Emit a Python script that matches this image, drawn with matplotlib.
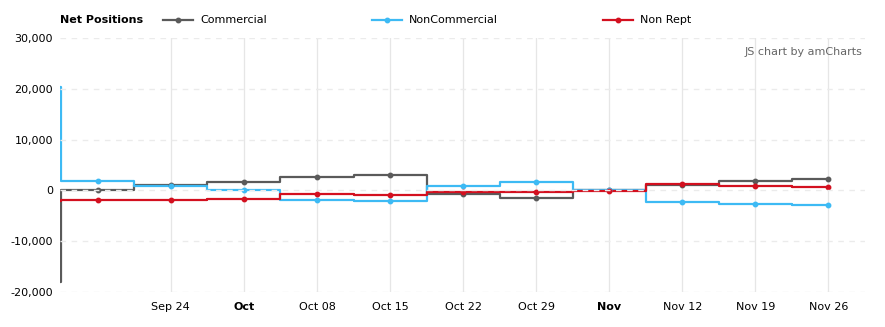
import matplotlib
matplotlib.use("Agg")
import matplotlib.pyplot as plt
import matplotlib.dates as mdates
from matplotlib.lines import Line2D
import pandas as pd

# Weekly net positions (contracts)
dates = ["2018-09-10", "2018-09-17", "2018-09-24", "2018-10-01", "2018-10-08",
         "2018-10-15", "2018-10-22", "2018-10-29", "2018-11-05", "2018-11-12",
         "2018-11-19", "2018-11-26"]
commercial = [-18100, 50, 1000, 1700, 2600, 3100, -700, -1400, 0, 1100, 1850, 2200]
noncommercial = [20300, 1900, 900, 50, -1800, -2100, 850, 1700, 100, -2300, -2700, -2900]
non_rept = [-2000, -1900, -1900, -1700, -700, -1000, -300, -300, -150, 1200, 800, 600]

series_names = ["Commercial", "NonCommercial", "Non Rept"]
series_colors = ["#5a5a5a", "#3dbaf4", "#d3101f"]

tick_dates = ["2018-09-24", "2018-10-01", "2018-10-08", "2018-10-15", "2018-10-22",
              "2018-10-29", "2018-11-05", "2018-11-12", "2018-11-19", "2018-11-26"]
tick_labels = ["Sep 24", "Oct", "Oct 08", "Oct 15", "Oct 22", "Oct 29",
               "Nov", "Nov 12", "Nov 19", "Nov 26"]
month_labels = {"Oct", "Nov"}
y_ticks = [-20000, -10000, 0, 10000, 20000, 30000]

plt.rcParams["font.family"] = ["DejaVu Sans"]

W, H = 885, 327
fig = plt.figure(figsize=(W / 100, H / 100), dpi=100)
ax = fig.add_axes([60 / W, 1 - 292 / H, 805 / W, 254 / H])

x = mdates.date2num(pd.to_datetime(dates))
for vals, name, col in zip([commercial, noncommercial, non_rept], series_names, series_colors):
    ax.step(x, vals, where="mid", color=col, lw=1.6, zorder=2)
    ax.plot(x, vals, ls="none", marker="o", ms=3.2, color=col, zorder=2.2)

half_week = 3.5
ax.set_xlim(x[0] + half_week - 0.12, x[-1] + half_week)
ax.set_ylim(y_ticks[0], y_ticks[-1])

# axes styling
for s in ax.spines.values():
    s.set_visible(False)
tx = mdates.date2num(pd.to_datetime(tick_dates))
ax.set_xticks(tx)
ax.set_xticklabels(tick_labels)
for lbl in ax.get_xticklabels():
    if lbl.get_text() in month_labels:
        lbl.set_fontweight("bold")
ax.set_yticks(y_ticks)
ax.set_yticklabels([f"{v:,.0f}" for v in y_ticks])
ax.tick_params(axis="both", length=0, labelsize=8, colors="#000000")
ax.tick_params(axis="x", pad=7)
ax.tick_params(axis="y", pad=5)
ax.grid(axis="x", color="#e6e6e6", lw=0.9, zorder=0)
ax.set_axisbelow(True)
for v in y_ticks:
    ax.axhline(v, color="#ebebeb", lw=1.0, ls=(0, (4, 4)), zorder=3)

# watermark
ax.text(0.997, 0.945, "JS chart by amCharts", transform=ax.transAxes,
        ha="right", va="center", fontsize=8, color="#666666")

# legend row
ly = 1 - 20 / H
fig.text(60 / W, ly, "Net Positions", fontsize=8, fontweight="bold",
         va="center", ha="left")
icon_x = [163, 372, 603]
for x0, name, col in zip(icon_x, series_names, series_colors):
    fig.add_artist(Line2D([x0 / W, (x0 + 30) / W], [ly, ly], color=col, lw=1.6,
                          transform=fig.transFigure))
    fig.add_artist(Line2D([(x0 + 15) / W], [ly], color=col, marker="o", ms=3.2,
                          transform=fig.transFigure))
    fig.text((x0 + 37) / W, ly, name, fontsize=8, va="center", ha="left")

fig.savefig("out.png", dpi=100)
